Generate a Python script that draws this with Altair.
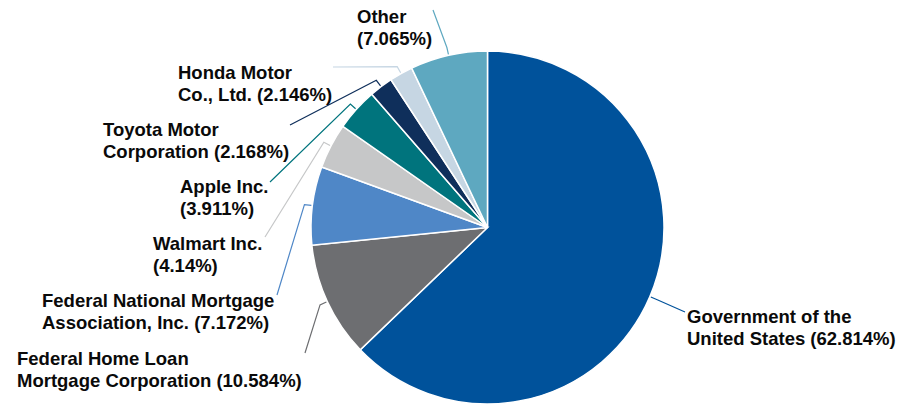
import altair as alt
import pandas as pd
import numpy as np

# ---- data ----
names = [
    "Government of the United States",
    "Federal Home Loan Mortgage Corporation",
    "Federal National Mortgage Association, Inc.",
    "Walmart Inc.",
    "Apple Inc.",
    "Toyota Motor Corporation",
    "Honda Motor Co., Ltd.",
    "Other",
]
values = [62.814, 10.584, 7.172, 4.14, 3.911, 2.168, 2.146, 7.065]
label_text = [
    "Government of the\nUnited States (62.814%)",
    "Federal Home Loan\nMortgage Corporation (10.584%)",
    "Federal National Mortgage\nAssociation, Inc. (7.172%)",
    "Walmart Inc.\n(4.14%)",
    "Apple Inc.\n(3.911%)",
    "Toyota Motor\nCorporation (2.168%)",
    "Honda Motor\nCo., Ltd. (2.146%)",
    "Other\n(7.065%)",
]
colors = ["#00529b", "#6d6e71", "#4f87c7", "#c6c7c8", "#00747d", "#0f2f5b", "#c6d6e3", "#5ea8c0"]

# ---- layout (chart pixel coordinates) ----
W, H = 889, 397
CX, CY, R = 479.5, 219.5, 176.5
label_x = [679, 9, 34, 145, 172, 95, 170, 349]
label_y = [315, 357, 299, 242, 185, 128, 71, 15]
leader_end_x = [677, 297, 269, 257, 262, 282, 325, 425]
leader_end_y = [304, 345, 287, 229, 174, 117, 59, 2]

df = pd.DataFrame({"name": names, "value": values, "idx": list(range(len(names))),
                   "label": label_text, "lx": label_x, "ly": label_y})

# leader lines derived from slice mid-angles
tot = sum(values)
cum = np.cumsum([0] + values[:-1])
rows = []
for i, n in enumerate(names):
    mid = (cum[i] + values[i] / 2) / tot * 2 * np.pi
    for k, r in enumerate([R + 1, R + 8]):
        rows.append({"name": n, "seq": k, "x": CX + r * np.sin(mid), "y": CY - r * np.cos(mid)})
    rows.append({"name": n, "seq": 2, "x": leader_end_x[i], "y": leader_end_y[i]})
lines_df = pd.DataFrame(rows)

color_scale = alt.Scale(domain=names, range=colors)
xs = alt.Scale(domain=[0, W], range=[0, W])
ys = alt.Scale(domain=[0, H], range=[0, H])

pie = alt.Chart(df).mark_arc(radius=R, stroke="white", strokeWidth=1.5).encode(
    theta=alt.Theta("value:Q", stack=True),
    order=alt.Order("idx:Q"),
    color=alt.Color("name:N", scale=color_scale, legend=None),
    x=alt.value(CX),
    y=alt.value(CY),
)

leaders = alt.Chart(lines_df).mark_line(strokeWidth=1.2).encode(
    x=alt.X("x:Q", scale=xs, axis=None),
    y=alt.Y("y:Q", scale=ys, axis=None),
    detail="name:N",
    order="seq:Q",
    color=alt.Color("name:N", scale=color_scale, legend=None),
)

labels = alt.Chart(df).mark_text(
    align="left", baseline="alphabetic", lineBreak="\n", lineHeight=22,
    fontSize=18.5, fontWeight="bold", font="Liberation Sans", color="#0a0a0a",
).encode(
    x=alt.X("lx:Q", scale=xs, axis=None),
    y=alt.Y("ly:Q", scale=ys, axis=None),
    text="label:N",
)

chart = alt.layer(pie, leaders, labels).properties(
    width=W, height=H, autosize=alt.AutoSizeParams(type="none"), padding=0
).configure_view(stroke=None)

chart.save("out.html", embed_options={"renderer": "svg", "actions": False})
